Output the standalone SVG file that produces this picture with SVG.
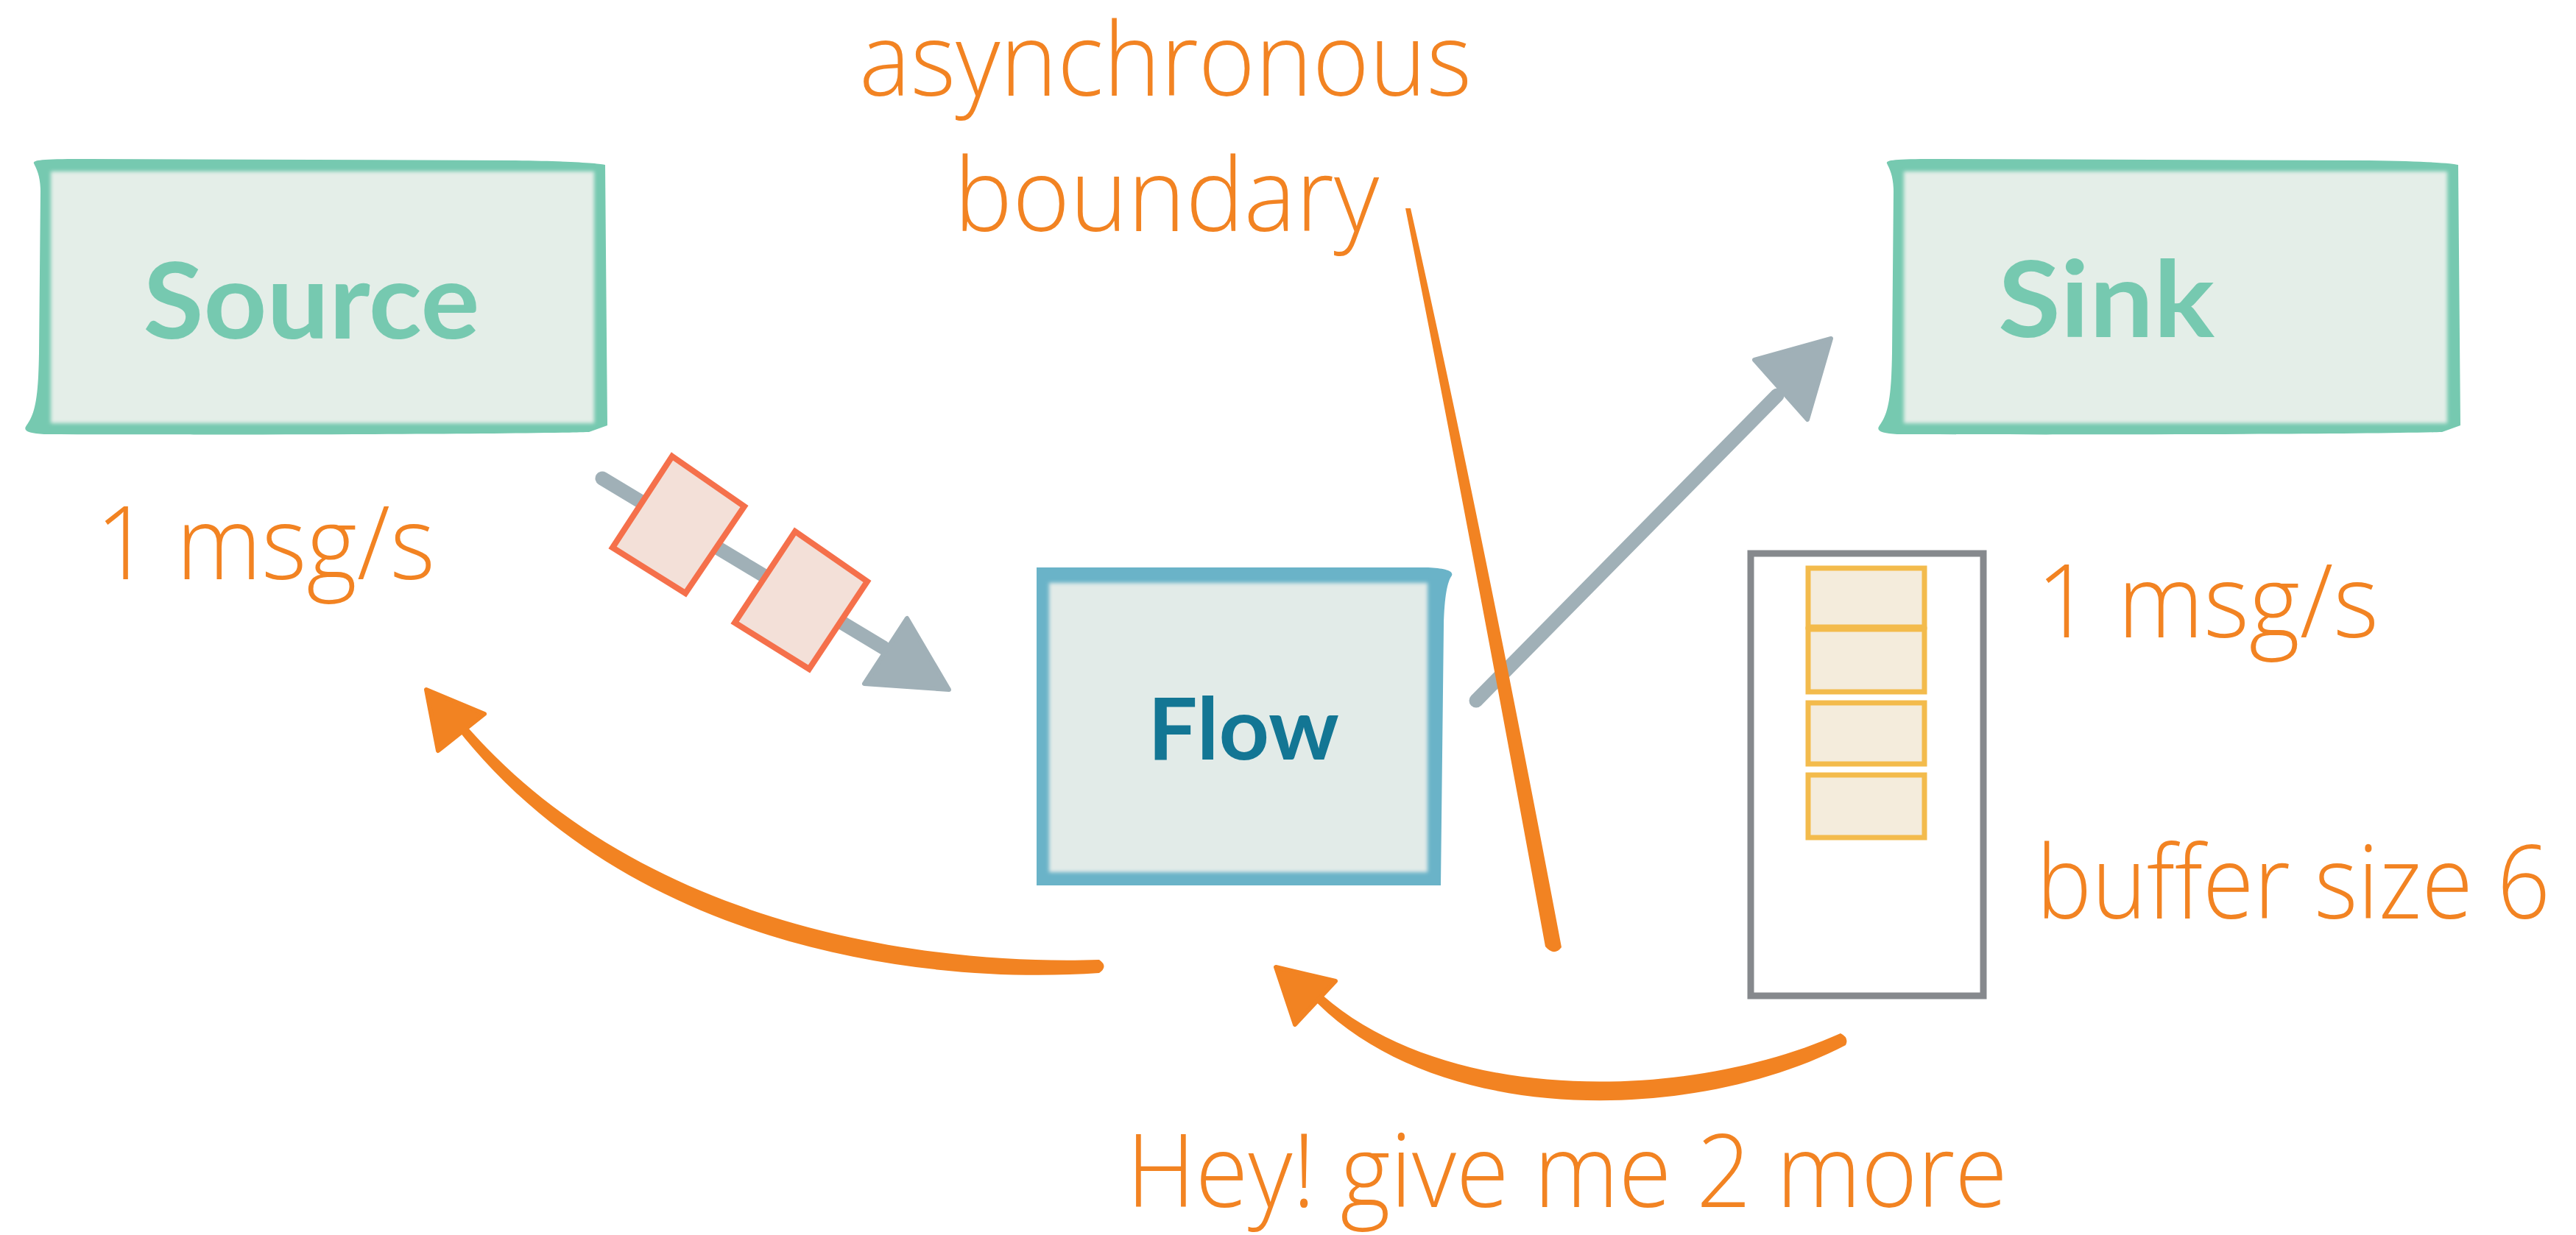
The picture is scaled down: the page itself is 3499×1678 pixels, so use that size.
<svg xmlns="http://www.w3.org/2000/svg" width="3499" height="1678" viewBox="0 0 3499 1678">
  <style>
    .lbl { font-family: "Open Sans", Lato, "Noto Sans", sans-serif; font-weight: 300; font-size: 138px; fill: #f28322; }
    .title { font-family: Lato, "Open Sans", "Noto Sans", sans-serif; font-weight: 700; text-anchor: middle; }
    .teal { fill: #76c9b0; }
    .packet { fill: #f3e0d8; stroke: #f5704b; stroke-width: 8; stroke-linejoin: miter; }
    .cell { fill: #f4ecdc; stroke: #f3bb4c; stroke-width: 7; }
    .grayline { fill: none; stroke: #a0b0b7; stroke-linecap: round; }
    .grayhead { fill: #a0b0b7; stroke: #a0b0b7; stroke-width: 6; stroke-linejoin: round; }
    .orange { fill: #f28322; }
    .orangehead { fill: #f28322; stroke: #f28322; stroke-width: 6; stroke-linejoin: round; }
  </style>
  <defs>
    <filter id="soft" x="-5%" y="-5%" width="110%" height="110%">
      <feGaussianBlur stdDeviation="2.5"/>
    </filter>
    <path id="sbox" d="M46,222 C44,217 60,216 120,216 L700,218 C780,219 815,222 822,224 L825,578 L800,587 C700,590 300,591 60,590 C40,589 30,586 36,578 C48,562 52,540 53,480 L55,260 C55,240 50,230 46,222 Z"/>
  </defs>
  <rect width="3499" height="1678" fill="#ffffff"/>

  <g id="source">
    <use href="#sbox" fill="#76c9b0"/>
    <rect x="69" y="233" width="738" height="342" fill="#e4eee8" filter="url(#soft)"/>
    <text class="title teal" x="423" y="460" font-size="144" textLength="457" lengthAdjust="spacingAndGlyphs">Source</text>
  </g>

  <g id="sink">
    <use href="#sbox" fill="#76c9b0" transform="translate(2517,0)"/>
    <rect x="2586" y="233" width="738" height="342" fill="#e4eee8" filter="url(#soft)"/>
    <text class="title teal" x="2861" y="458" font-size="144" textLength="294" lengthAdjust="spacingAndGlyphs">Sink</text>
  </g>

  <g id="flow">
    <path d="M1408,771 L1940,771 C1960,772 1975,775 1972,782 C1966,790 1962,810 1961,850 L1957,1203 L1408,1203 Z" fill="#6ab3c8"/>
    <rect x="1425" y="792" width="514" height="393" fill="#e2ebe8" filter="url(#soft)"/>
    <text class="title" x="1689" y="1032" font-size="116" fill="#137694" textLength="260" lengthAdjust="spacingAndGlyphs">Flow</text>
  </g>

  <g id="connectors">
    <path class="grayline" d="M818,650 L1200,880" stroke-width="19"/>
    <polygon class="grayhead" points="1232,840 1174,929 1289,937"/>
    <path class="grayline" d="M2005,952 L2414,537" stroke-width="19"/>
    <polygon class="grayhead" points="2487,460 2383,489 2455,570"/>
    <path class="orange" d="M1493,1304 C1252,1312 866,1257 629,981 L620,989 C852,1285 1248,1339 1493,1322 Q1506,1313 1493,1304 Z"/>
    <polygon class="orangehead" points="579,937 658,970 595,1020"/>
    <path class="orange" d="M2500,1404 C2296,1496 1955,1505 1784,1341 L1776,1349 C1945,1535 2304,1526 2507,1420 Q2512,1410 2500,1404 Z"/>
    <polygon class="orangehead" points="1733,1314 1814,1333 1759,1392"/>
  </g>

  <g id="packets">
    <polygon class="packet" points="913,620 1011,688 931,806 832,744"/>
    <polygon class="packet" points="1080,722 1178,790 1099,909 998,846"/>
  </g>

  <g id="boundary">
    <path class="orange" d="M1909,283 Q1992,700 2099,1286 Q2111,1300 2121,1287 Q2010,700 1916,283 Z"/>
  </g>

  <g id="buffer">
    <rect x="2378" y="752" width="316" height="601" fill="none" stroke="#86898d" stroke-width="9"/>
    <rect class="cell" x="2456" y="772" width="158" height="80"/>
    <rect class="cell" x="2456" y="855" width="158" height="85"/>
    <rect class="cell" x="2456" y="955" width="158" height="83"/>
    <rect class="cell" x="2456" y="1053" width="158" height="85"/>
  </g>

  <g id="labels">
    <text class="lbl" x="1167" y="130" textLength="832" lengthAdjust="spacingAndGlyphs">asynchronous</text>
    <text class="lbl" x="1296" y="314" textLength="577" lengthAdjust="spacingAndGlyphs">boundary</text>
    <text class="lbl" x="130" y="787" textLength="461" lengthAdjust="spacingAndGlyphs">1 msg/s</text>
    <text class="lbl" x="2766" y="866" textLength="465" lengthAdjust="spacingAndGlyphs">1 msg/s</text>
    <text class="lbl" x="2766" y="1248" font-size="131" textLength="698" lengthAdjust="spacingAndGlyphs">buffer size 6</text>
    <text class="lbl" x="1530" y="1640" textLength="1197" lengthAdjust="spacingAndGlyphs">Hey! give me 2 more</text>
  </g>
</svg>
